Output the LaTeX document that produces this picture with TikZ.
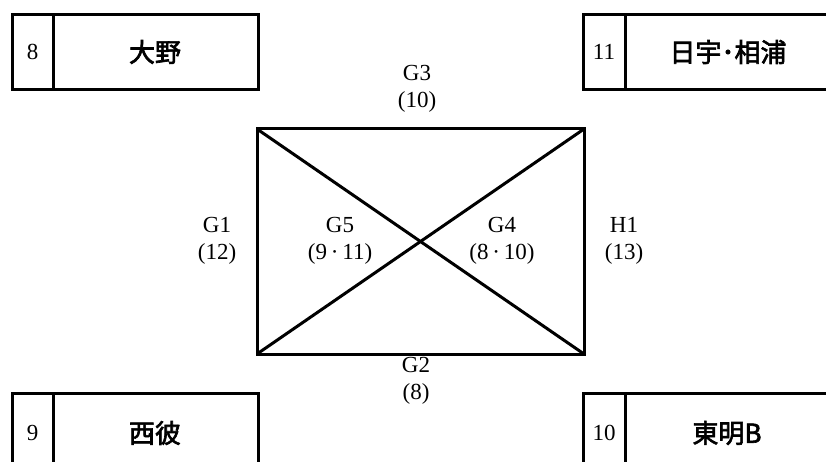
\documentclass[tikz,border=0pt]{standalone}
\usepackage{fontspec}
\setmainfont{Liberation Serif}
\newfontfamily\cjk{Noto Sans CJK JP}[FakeBold=2.5]
\begin{document}
\begin{tikzpicture}[x=1pt,y=-1pt,
  frame/.style={draw=black,line width=3pt},
  lbl/.style={font=\fontsize{23}{26.5}\selectfont,align=center,inner sep=0pt},
  num/.style={font=\fontsize{23}{26}\selectfont,inner sep=0pt},
  team/.style={font=\cjk\fontsize{26}{30}\selectfont,inner sep=0pt}]
\useasboundingbox (0,0) rectangle (826,462);
\begin{scope}
\clip (0,0) rectangle (826,462);
% team boxes
\draw[frame] (12,15) rectangle (258,90);
\draw[frame] (53,15) -- (53,90);
\draw[frame] (583,15) rectangle (840,90);
\draw[frame] (625,15) -- (625,90);
\draw[frame] (12,393) rectangle (258,480);
\draw[frame] (53,393) -- (53,480);
\draw[frame] (583,393) rectangle (840,480);
\draw[frame] (625,393) -- (625,480);
\end{scope}
\node[num] (n8) at (32.5,52) {8};
\node[team] (t8) at (155,52) {大野};
\node[num] (n11) at (604,52) {11};
\node[team] (t11) at (728,52) {日宇･相浦};
\node[num] (n9) at (32.5,433) {9};
\node[team] (t9) at (155,433) {西彼};
\node[num] (n10) at (604,433) {10};
\node[team] (t10) at (727,433) {東明B};
% court
\coordinate (tl) at (257,129);
\coordinate (tr) at (584,129);
\coordinate (br) at (584,354);
\coordinate (bl) at (257,354);
\draw[frame,line join=miter] (tl) -- (tr) -- (br) -- (bl) -- cycle;
\draw[frame] (tl) -- (br);
\draw[frame] (tr) -- (bl);
% labels
\node[lbl] (g3) at (417,89) {G3\\(10)};
\node[lbl] (g1) at (217,241) {G1\\(12)};
\node[lbl] (g5) at (340,241) {G5\\(9\,·\,11)};
\node[lbl] (g4) at (502,241) {G4\\(8\,·\,10)};
\node[lbl] (h1) at (624,241) {H1\\(13)};
\node[lbl] (g2) at (416,381) {G2\\(8)};
\end{tikzpicture}
\end{document}
